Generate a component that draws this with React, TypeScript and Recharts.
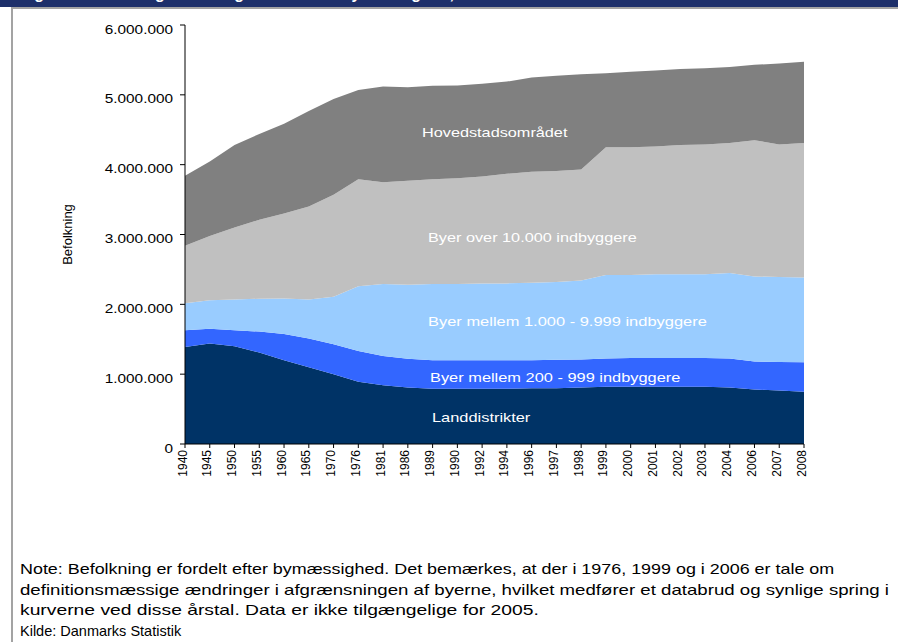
import { Area, AreaChart, XAxis, YAxis } from 'recharts'

// Befolkning fordelt efter bymæssighed (i 1.000 personer)
const years = [
  '1940', '1945', '1950', '1955', '1960', '1965', '1970', '1976', '1981', '1986', '1989', '1990', '1992',
  '1994', '1996', '1997', '1998', '1999', '2000', '2001', '2002', '2003', '2004', '2006', '2007', '2008',
]

const landdistrikter = [
  1390, 1440, 1400, 1310, 1200, 1100, 1000, 890, 840, 810, 790, 790, 790,
  790, 800, 800, 810, 820, 820, 820, 820, 820, 810, 780, 765, 750,
]
const byer200 = [
  240, 210, 230, 300, 375, 410, 430, 440, 420, 410, 410, 410, 410,
  410, 400, 405, 400, 405, 410, 410, 410, 410, 415, 400, 410, 420,
]
const byer1000 = [
  385, 410, 440, 470, 510, 560, 680, 930, 1030, 1060, 1090, 1090, 1100,
  1100, 1110, 1115, 1130, 1195, 1190, 1200, 1200, 1200, 1225, 1220, 1215, 1215,
]
const byer10000 = [
  825, 920, 1030, 1130, 1215, 1330, 1460, 1530, 1460, 1490, 1500, 1515, 1530,
  1570, 1590, 1590, 1590, 1830, 1830, 1830, 1850, 1860, 1860, 1950, 1900, 1925,
]
const hovedstad = [
  1000, 1065, 1180, 1230, 1285, 1370, 1370, 1280, 1370, 1340, 1340, 1330, 1330,
  1320, 1350, 1365, 1365, 1060, 1080, 1090, 1090, 1090, 1090, 1080, 1160, 1165,
]

const yTicks = [0, 1000000, 2000000, 3000000, 4000000, 5000000, 6000000]

const data = years.map((year, i) => ({
  year,
  land: landdistrikter[i] * 1000,
  b200: byer200[i] * 1000,
  b1000: byer1000[i] * 1000,
  b10000: byer10000[i] * 1000,
  hoved: hovedstad[i] * 1000,
}))

const font = 'Arial, "Liberation Sans", Helvetica, sans-serif'

const fmt = (v: number) => String(v).replace(/\B(?=(\d{3})+(?!\d))/g, '.')

function YearTick({ x, y, payload }: any) {
  return (
    <text
      x={x}
      y={y}
      dy={1.5}
      transform={`rotate(-90, ${x}, ${y})`}
      textAnchor="end"
      fontSize={12}
      fontFamily={font}
      fill="#000"
    >
      {payload.value}
    </text>
  )
}

function ValueTick({ x, y, payload }: any) {
  return (
    <g transform={`translate(${x - 5}, ${y}) scale(1.28, 1)`}>
      <text x={0} y={0} dy={8.5} textAnchor="end" fontSize={12} fontFamily={font} fill="#000">
        {fmt(payload.value)}
      </text>
    </g>
  )
}

const inside = {
  position: 'absolute' as const,
  color: '#fff',
  fontSize: 13,
  lineHeight: '16px',
  fontFamily: font,
  whiteSpace: 'nowrap' as const,
  transformOrigin: 'left top',
}

const noteLine = (s: number) => ({
  whiteSpace: 'nowrap' as const,
  height: 20.7,
  lineHeight: '20.7px',
  transform: `scaleX(${s})`,
  transformOrigin: 'left top',
})

export default function App() {
  return (
    <div style={{ position: 'absolute', left: 0, top: 0, width: 898, height: 642, background: '#fff', overflow: 'hidden', fontFamily: font }}>
      {/* header bar with the clipped figure title */}
      <div style={{ position: 'absolute', left: 0, top: 0, width: 898, height: 7, background: '#1d2f6a', overflow: 'hidden' }}>
        <div style={{ position: 'absolute', left: 20, top: 0, lineHeight: '16px', transform: 'translateY(-14.5px)', color: '#fff', fontWeight: 'bold', fontSize: 16, whiteSpace: 'nowrap' }}>
          Figur 1. Befolkningsudvikling fordelt efter bymæssighed, 1940-2008
        </div>
      </div>
      <div style={{ position: 'absolute', left: 11, top: 7, width: 887, height: 2, background: '#a3a3a3' }} />
      <div style={{ position: 'absolute', left: 11, top: 7, width: 2, height: 635, background: '#a3a3a3' }} />

      <div style={{ position: 'absolute', left: 0, top: 0 }}>
        <AreaChart width={898} height={500} data={data} margin={{ top: 25, right: 94, bottom: 0, left: 0 }}>
          <XAxis
            dataKey="year"
            interval={0}
            height={56}
            tickSize={4}
            tick={<YearTick />}
            axisLine={{ stroke: '#000' }}
            tickLine={{ stroke: '#000' }}
          />
          <XAxis xAxisId="top" dataKey="year" orientation="top" height={0} tick={false} tickLine={false} axisLine={{ stroke: '#000' }} />
          <YAxis
            width={185}
            domain={[0, 6000000]}
            ticks={yTicks}
            interval={0}
            tickSize={5}
            tick={<ValueTick />}
            axisLine={{ stroke: '#000' }}
            tickLine={{ stroke: '#000' }}
            label={{ value: 'Befolkning', angle: -90, position: 'insideLeft', offset: 67, style: { fontSize: 13, fill: '#000', fontFamily: font, textAnchor: 'middle' } }}
          />
          <YAxis yAxisId="right" orientation="right" width={0} domain={[0, 6000000]} tick={false} tickLine={false} axisLine={{ stroke: '#000' }} />
          <Area dataKey="land" stackId="a" type="linear" fill="#003366" fillOpacity={1} stroke="none" isAnimationActive={false} />
          <Area dataKey="b200" stackId="a" type="linear" fill="#3366ff" fillOpacity={1} stroke="none" isAnimationActive={false} />
          <Area dataKey="b1000" stackId="a" type="linear" fill="#99ccff" fillOpacity={1} stroke="none" isAnimationActive={false} />
          <Area dataKey="b10000" stackId="a" type="linear" fill="#c0c0c0" fillOpacity={1} stroke="none" isAnimationActive={false} />
          <Area dataKey="hoved" stackId="a" type="linear" fill="#808080" fillOpacity={1} stroke="none" isAnimationActive={false} />
        </AreaChart>
      </div>

      <div style={{ ...inside, left: 422, top: 125, transform: 'scaleX(1.25)' }}>Hovedstadsområdet</div>
      <div style={{ ...inside, left: 428, top: 230, transform: 'scaleX(1.25)' }}>Byer over 10.000 indbyggere</div>
      <div style={{ ...inside, left: 428, top: 314, transform: 'scaleX(1.265)' }}>Byer mellem 1.000 - 9.999 indbyggere</div>
      <div style={{ ...inside, left: 430, top: 370, transform: 'scaleX(1.26)' }}>Byer mellem 200 - 999 indbyggere</div>
      <div style={{ ...inside, left: 432, top: 410, transform: 'scaleX(1.26)' }}>Landdistrikter</div>

      <div style={{ position: 'absolute', left: 20, top: 559, fontSize: 14.5, color: '#000' }}>
        <div style={noteLine(1.235)}>Note: Befolkning er fordelt efter bymæssighed. Det bemærkes, at der i 1976, 1999 og i 2006 er tale om</div>
        <div style={noteLine(1.285)}>definitionsmæssige ændringer i afgrænsningen af byerne, hvilket medfører et databrud og synlige spring i</div>
        <div style={noteLine(1.33)}>kurverne ved disse årstal. Data er ikke tilgængelige for 2005.</div>
        <div style={noteLine(1.0)}>Kilde: Danmarks Statistik</div>
      </div>
    </div>
  )
}
